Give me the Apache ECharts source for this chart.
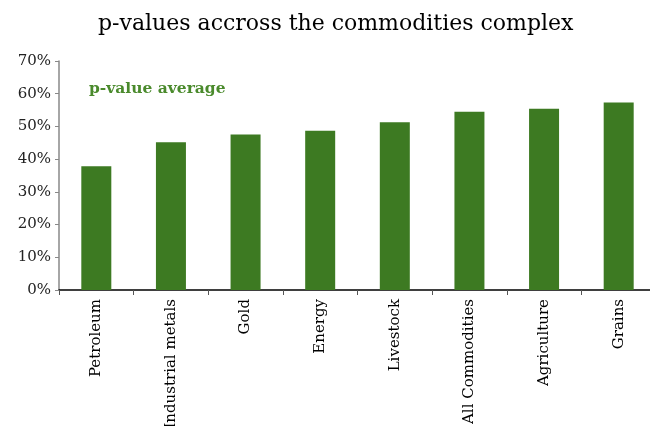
<!DOCTYPE html>
<html>
<head>
<meta charset="utf-8">
<script src="https://cdn.jsdelivr.net/npm/echarts@6/dist/echarts.min.js"></script>
<style>html,body{margin:0;padding:0;background:#fff;}#c{width:650px;height:426px;}</style>
</head>
<body>
<div id="c"></div>
<script>
const categories = ['Petroleum','Industrial metals','Gold','Energy','Livestock','All Commodities','Agriculture','Grains'];
const pValues = [37.8, 45.2, 47.5, 48.7, 51.3, 54.5, 55.4, 57.3];
const seriesName = 'p-value average';
const titleText = 'p-values accross the commodities complex';

const chart = echarts.init(document.getElementById('c'));
chart.setOption({
  animation: false,
  backgroundColor: '#fff',
  title: {
    text: titleText,
    left: 93,
    top: 8,
    textStyle: { fontFamily: 'DejaVu Serif', fontWeight: 'normal', fontSize: 22, color: '#000' }
  },
  legend: {
    data: [seriesName],
    left: 79,
    top: 76,
    icon: 'none',
    itemWidth: 0,
    textStyle: { fontFamily: 'DejaVu Serif', fontWeight: 'bold', fontSize: 15.5, color: '#4a8a2c' }
  },
  grid: { left: 59, top: 61, bottom: 136, width: 597, containLabel: false, outerBoundsMode: 'none' },
  xAxis: {
    type: 'category',
    data: categories,
    axisLine: { lineStyle: { color: '#000', width: 1.5 } },
    axisTick: { show: true, length: 5, lineStyle: { color: '#555' } },
    axisLabel: { rotate: 90, margin: 9, fontFamily: 'DejaVu Serif', fontSize: 15, color: '#000' }
  },
  yAxis: {
    type: 'value',
    min: 0,
    max: 70,
    interval: 10,
    splitLine: { show: false },
    axisLine: { show: true, lineStyle: { color: '#888', width: 1.5 } },
    axisTick: { show: true, length: 4, lineStyle: { color: '#888' } },
    axisLabel: { formatter: '{value}%', margin: 8, fontFamily: 'DejaVu Serif', fontSize: 15, color: '#222' }
  },
  series: [{
    name: seriesName,
    type: 'bar',
    data: pValues,
    barWidth: 30,
    itemStyle: { color: '#3d7a22' }
  }]
});
</script>
</body>
</html>
